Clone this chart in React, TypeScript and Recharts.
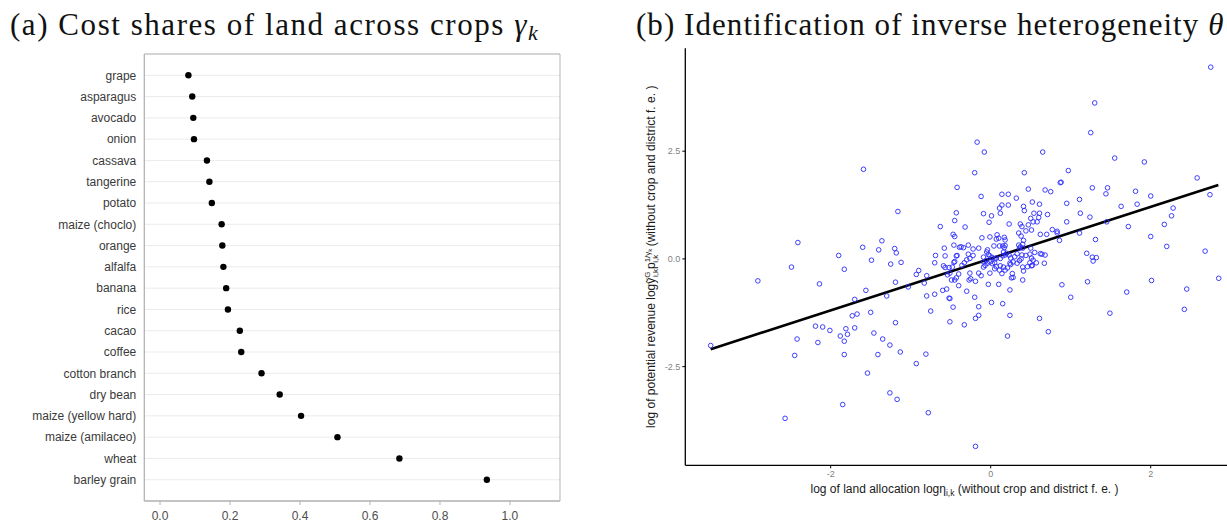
import React from 'react';
import {
  ScatterChart,
  Scatter,
  XAxis,
  YAxis,
  CartesianGrid,
  ReferenceArea,
  ReferenceLine,
} from 'recharts';

// ---- Panel (a): cost shares of land by crop ----
const crops = [
  'grape',
  'asparagus',
  'avocado',
  'onion',
  'cassava',
  'tangerine',
  'potato',
  'maize (choclo)',
  'orange',
  'alfalfa',
  'banana',
  'rice',
  'cacao',
  'coffee',
  'cotton branch',
  'dry bean',
  'maize (yellow hard)',
  'maize (amilaceo)',
  'wheat',
  'barley grain',
];
const landCostShare = [
  0.081, 0.092, 0.095, 0.097, 0.134, 0.141, 0.148, 0.176, 0.178, 0.181,
  0.189, 0.194, 0.228, 0.232, 0.29, 0.342, 0.403, 0.507, 0.684, 0.934,
];
const shareTicks = [0, 0.2, 0.4, 0.6, 0.8, 1.0];
const shareDomain: [number, number] = [-0.045, 1.143];

// ---- Panel (b): land allocation vs potential revenue ----
const allocTicks = [-2, 0, 2];
const revenueTicks = [-2.5, 0, 2.5];
const allocDomain: [number, number] = [-3.817, 3.162];
const revenueDomain: [number, number] = [-4.79, 4.89];
const fitLine = [
  { x: -3.5, y: -2.095 },
  { x: 2.845, y: 1.717 },
];
// [log land allocation, log potential revenue], residualised on crop and district f.e.
const districtCropPoints: [number, number][] = [
  [-1.59, 2.08], [-0.42, 1.66], [-1.16, 1.1], [-0.43, 1.07], [-0.45, 0.89], [-0.63, 0.75],
  [-0.47, 0.57], [-0.45, 0.52], [-2.41, 0.38], [-1.36, 0.42], [-1.6, 0.27], [-1.4, 0.21],
  [-1.2, 0.24], [-0.58, 0.25], [-0.46, 0.32], [-0.39, 0.27],
  [2.75, 4.45], [1.3, 3.62], [1.25, 2.93], [-0.17, 2.71], [-0.08, 2.48], [0.65, 2.48],
  [1.55, 2.34], [1.92, 2.25], [-0.2, 2.0], [0.42, 2.0], [0.97, 2.05], [2.58, 1.88],
  [0.47, 1.62], [0.87, 1.77], [0.88, 1.78], [1.27, 1.65], [1.46, 1.65], [1.44, 1.51],
  [0.68, 1.6], [0.75, 1.56], [1.81, 1.57], [2.0, 1.46], [2.74, 1.49], [-0.12, 1.45],
  [0.14, 1.5], [0.22, 1.5], [0.32, 1.41], [0.52, 1.32], [0.14, 1.25], [0.22, 1.25],
  [0.61, 1.27], [0.41, 1.22], [0.11, 1.18], [0.42, 1.12], [-0.09, 1.05], [0.01, 1.0],
  [0.12, 1.06], [0.54, 1.06], [0.61, 1.06], [0.71, 1.03], [0.95, 1.29], [1.11, 1.38],
  [1.12, 1.06], [1.24, 0.97], [1.63, 1.22], [1.83, 1.27], [2.28, 1.18], [2.26, 1.0],
  [2.17, 0.8], [-0.32, 0.74], [-0.02, 0.85], [0.23, 0.81], [0.5, 0.94], [0.53, 0.86],
  [0.58, 0.86], [0.6, 0.96], [0.47, 0.79], [0.37, 0.81], [0.39, 0.75], [0.44, 0.65],
  [0.35, 0.6], [0.38, 0.53], [0.51, 0.67], [0.62, 0.57], [0.7, 0.57], [0.77, 0.68],
  [0.83, 0.64], [0.83, 0.6], [0.86, 0.43], [0.95, 0.86], [1.11, 0.6], [1.31, 0.45],
  [1.45, 0.86], [1.72, 0.75], [2.0, 0.52], [2.2, 0.29], [-0.37, 0.28], [-0.34, 0.26],
  [-0.28, 0.32], [-0.22, 0.23], [-0.15, 0.25], [-0.11, 0.49], [-0.01, 0.51], [0.08, 0.56],
  [0.1, 0.48], [0.17, 0.5], [0.18, 0.44], [0.07, 0.46], [0.04, 0.3], [0.11, 0.3],
  [0.15, 0.3], [0.18, 0.31], [0.17, 0.26], [-0.04, 0.21], [0.35, 0.32], [0.37, 0.28],
  [0.4, 0.34], [0.36, 0.25], [0.4, 0.25], [0.41, 0.43], [0.5, 0.25],
  [-1.18, 0.14], [-1.9, 0.08], [-1.49, -0.03], [-1.25, -0.12], [-1.12, -0.08], [-1.83, -0.24],
  [-2.49, -0.19], [-2.91, -0.51], [-2.14, -0.58], [-1.56, -0.73], [-1.7, -0.94], [-1.3, -0.86],
  [-1.19, -0.54], [-1.03, -0.65], [-0.93, -0.36], [-0.9, -0.27], [-0.83, -0.56], [-0.8, -0.39],
  [-0.7, -0.09], [-0.69, 0.08], [-0.57, 0.07], [-0.59, -0.16], [-0.57, -0.2], [-0.52, -0.2],
  [-0.48, -0.19], [-0.46, -0.08], [-0.45, -0.06], [-0.43, 0.07], [-0.42, 0.08], [-0.54, -0.37],
  [-0.51, -0.33], [-0.49, -0.49], [-0.45, -0.49], [-0.4, -0.62], [-0.6, -0.73], [-0.55, -0.7],
  [-0.7, -0.82], [-0.8, -0.86], [-0.52, -0.91], [-0.51, -0.92], [-0.47, -1.12], [-0.75, -1.21],
  [-0.51, -1.46], [-1.5, -1.24], [-1.67, -1.28], [-1.73, -1.32], [-2.19, -1.56], [-2.1, -1.58],
  [-2.01, -1.66], [-1.81, -1.62], [-1.7, -1.6], [-1.88, -1.79], [-1.79, -1.75], [-1.83, -1.91],
  [-2.42, -1.86], [-2.16, -1.94], [-3.5, -2.01], [-2.45, -2.24], [-1.83, -2.22], [-1.46, -1.72],
  [-1.35, -1.86], [-1.26, -2.0], [-1.41, -2.22], [-1.13, -2.16], [-1.19, -1.48], [-0.81, -2.21],
  [-0.93, -2.43], [-1.54, -2.65], [-1.26, -3.11], [-1.17, -3.26], [-1.85, -3.38], [-0.78, -3.57],
  [-2.57, -3.7],
  [-0.19, -4.35], [0.21, -1.79], [0.72, -1.69], [0.61, -1.38], [0.24, -1.31], [-0.33, -1.53],
  [-0.19, -1.38], [-0.15, -1.31], [-0.15, -1.11], [0.01, -1.01], [0.15, -1.04], [-0.2, -0.89],
  [-0.3, -0.75], [0.24, -0.72], [0.1, -0.59], [-0.03, -0.59], [0.4, -0.49], [-0.27, -0.49],
  [-0.19, -0.52], [0.89, -0.6], [1.0, -0.89], [1.21, -0.53], [1.7, -0.77], [1.49, -1.26],
  [2.01, -0.5], [2.45, -0.7], [2.42, -1.17], [2.85, -0.45], [2.68, 0.18], [1.2, 0.13],
  [1.27, 0.04], [1.32, 0.03], [1.28, -0.05],
  [-0.28, 0.11], [-0.22, 0.08], [-0.33, -0.09], [-0.36, -0.15], [-0.3, -0.02], [-0.26, 0.01],
  [-0.4, -0.35], [-0.43, -0.44], [-0.15, -0.33], [-0.12, -0.39], [-0.26, -0.33], [-0.25, -0.46],
  [-0.09, 0.04], [-0.09, -0.07], [-0.07, -0.15], [-0.09, -0.19], [-0.05, 0.16], [-0.03, 0.1],
  [-0.01, 0.07], [0.02, 0.03], [0.05, 0.0], [-0.06, -0.04], [-0.04, -0.1], [-0.01, -0.07],
  [0.02, -0.11], [0.05, -0.09], [0.07, 0.02], [0.12, 0.01], [0.15, 0.07], [0.18, 0.09],
  [0.2, 0.13], [0.16, 0.16], [0.07, -0.18], [0.12, -0.16], [0.16, -0.19], [0.11, -0.26],
  [0.18, -0.26], [0.05, -0.23], [-0.01, -0.33], [0.14, -0.34], [0.27, -0.34], [0.28, -0.43],
  [0.26, -0.44], [0.41, -0.28], [0.4, -0.19], [0.24, -0.1], [0.28, -0.07], [0.33, -0.1],
  [0.36, -0.04], [0.38, 0.0], [0.25, 0.02], [0.3, 0.05], [0.23, 0.09], [0.33, 0.12],
  [0.39, 0.09], [0.44, 0.08], [0.49, 0.11], [0.51, 0.02], [0.53, -0.03], [0.49, -0.09],
  [0.57, -0.09], [0.52, -0.15], [0.46, -0.18], [0.51, -0.16], [0.55, 0.15], [0.62, 0.12],
  [0.64, 0.11], [0.68, 0.09], [0.67, -0.1], [0.25, -0.13], [0.21, -0.21],
];

const SANS = '"Liberation Sans", Arial, Helvetica, sans-serif';
const SERIF = '"Liberation Serif", "Times New Roman", serif';

const shareData = crops.map((crop, i) => ({
  crop,
  row: crops.length - i,
  share: landCostShare[i],
}));
const rowTicks = shareData.map((d) => d.row);

const pointData = districtCropPoints.map(([x, y]) => ({ x, y }));

const BlackDot = (props: any) => (
  <circle cx={props.cx} cy={props.cy} r={3.2} fill="#000" />
);

const HollowRing = (props: any) => (
  <circle cx={props.cx} cy={props.cy} r={2.3} fill="none" stroke="#2a2aff" strokeWidth={0.9} />
);

const XTitle = (props: any) => {
  const vb = props.viewBox || { x: 85.3, y: 465.3, width: 558.4, height: 57.7 };
  const cx = vb.x + vb.width / 2;
  return (
    <text x={cx} y={493} textAnchor="middle" fontFamily={SANS} fontSize={12} fill="#1a1a1a">
      <tspan>log of land allocation log</tspan>
      <tspan>η</tspan>
      <tspan fontSize={8.5} dy={3}>i,k</tspan>
      <tspan dy={-3}> (without crop and district f. e. )</tspan>
    </text>
  );
};

const YTitle = (props: any) => {
  const vb = props.viewBox || { x: 0, y: 48, width: 85.3, height: 417 };
  const x = vb.x + 55;
  const cy = vb.y + vb.height / 2;
  return (
    <text
      x={x}
      y={cy}
      transform={`rotate(-90 ${x} ${cy})`}
      textAnchor="middle"
      fontFamily={SANS}
      fontSize={12}
      fill="#1a1a1a"
    >
      <tspan>log of potential revenue log</tspan>
      <tspan>ỹ</tspan>
      <tspan fontSize={8} dy={-5}>G</tspan>
      <tspan fontSize={8} dx={-5.5} dy={8}>i,k</tspan>
      <tspan dy={-3}>p</tspan>
      <tspan fontSize={8} dy={-5}>1/γ</tspan>
      <tspan fontSize={6} dy={1.5}>k</tspan>
      <tspan fontSize={8} dx={-14} dy={6.5}>i,k</tspan>
      <tspan dx={5} dy={-3}> (without crop and district f. e. )</tspan>
    </text>
  );
};

export default function App() {
  return (
    <div
      style={{
        position: 'absolute',
        left: 0,
        top: 0,
        width: 1227,
        height: 523,
        overflow: 'hidden',
        background: '#fff',
      }}
    >
      <svg
        width={1227}
        height={50}
        style={{ position: 'absolute', left: 0, top: 0 }}
      >
        <text x={10} y={35} fontFamily={SERIF} fontSize={31} fill="#111" letterSpacing={1.55}>
          (a) Cost shares of land across crops{' '}
          <tspan fontStyle="italic">γ</tspan>
          <tspan fontStyle="italic" fontSize={22} dy={5}>k</tspan>
        </text>
        <text x={636} y={35} fontFamily={SERIF} fontSize={31} fill="#111" letterSpacing={1.05}>
          (b) Identification of inverse heterogeneity{' '}
          <tspan fontStyle="italic">θ</tspan>
        </text>
      </svg>

      <div style={{ position: 'absolute', left: 0, top: 0 }}>
        <ScatterChart width={600} height={523} margin={{ top: 54, right: 40, bottom: 0, left: 0 }}>
          <CartesianGrid vertical={false} stroke="#ebebeb" strokeWidth={1} />
          <XAxis
            type="number"
            dataKey="share"
            domain={shareDomain}
            ticks={shareTicks}
            allowDataOverflow
            interval={0}
            tickFormatter={(v: number) => v.toFixed(1)}
            height={22}
            axisLine={{ stroke: '#b3b3b3' }}
            tickLine={{ stroke: '#b3b3b3' }}
            tickSize={4}
            tickMargin={6}
            tick={{ fontSize: 12, fill: '#4d4d4d', fontFamily: SANS }}
          />
          <YAxis
            type="number"
            dataKey="row"
            domain={[0, crops.length + 1]}
            ticks={rowTicks}
            allowDataOverflow
            interval={0}
            tickFormatter={(v: number) => crops[crops.length - v]}
            width={144.3}
            axisLine={{ stroke: '#b3b3b3' }}
            tickLine={false}
            tickSize={0}
            tickMargin={8}
            tick={{ fontSize: 12, fill: '#3a3a3a', fontFamily: SANS }}
          />
          <ReferenceArea
            x1={shareDomain[0]}
            x2={shareDomain[1]}
            y1={0}
            y2={crops.length + 1}
            fill="none"
            stroke="#b3b3b3"
            strokeWidth={1}
            ifOverflow="visible"
          />
          <Scatter data={shareData} fill="#000" shape={BlackDot} isAnimationActive={false} />
        </ScatterChart>
      </div>

      <div style={{ position: 'absolute', left: 600, top: 0 }}>
        <ScatterChart width={700} height={523} margin={{ top: 48.2, right: 56.3, bottom: 0, left: 0 }}>
          <XAxis
            type="number"
            dataKey="x"
            domain={allocDomain}
            ticks={allocTicks}
            allowDataOverflow
            interval={0}
            height={57.7}
            axisLine={{ stroke: '#000', strokeWidth: 1.3 }}
            tickLine={{ stroke: '#000' }}
            tickSize={3}
            tickMargin={2}
            tick={{ fontSize: 9, fill: '#7f7f7f', fontFamily: SANS }}
            label={<XTitle />}
          />
          <YAxis
            type="number"
            dataKey="y"
            domain={revenueDomain}
            ticks={revenueTicks}
            allowDataOverflow
            interval={0}
            tickFormatter={(v: number) => v.toFixed(1)}
            width={85.3}
            axisLine={{ stroke: '#000', strokeWidth: 1.3 }}
            tickLine={{ stroke: '#000' }}
            tickSize={3}
            tickMargin={2}
            tick={{ fontSize: 9, fill: '#7f7f7f', fontFamily: SANS }}
            label={<YTitle />}
          />
          <Scatter data={pointData} shape={HollowRing} isAnimationActive={false} />
          <ReferenceLine segment={fitLine} stroke="#000" strokeWidth={2.6} ifOverflow="visible" />
        </ScatterChart>
      </div>
    </div>
  );
}
